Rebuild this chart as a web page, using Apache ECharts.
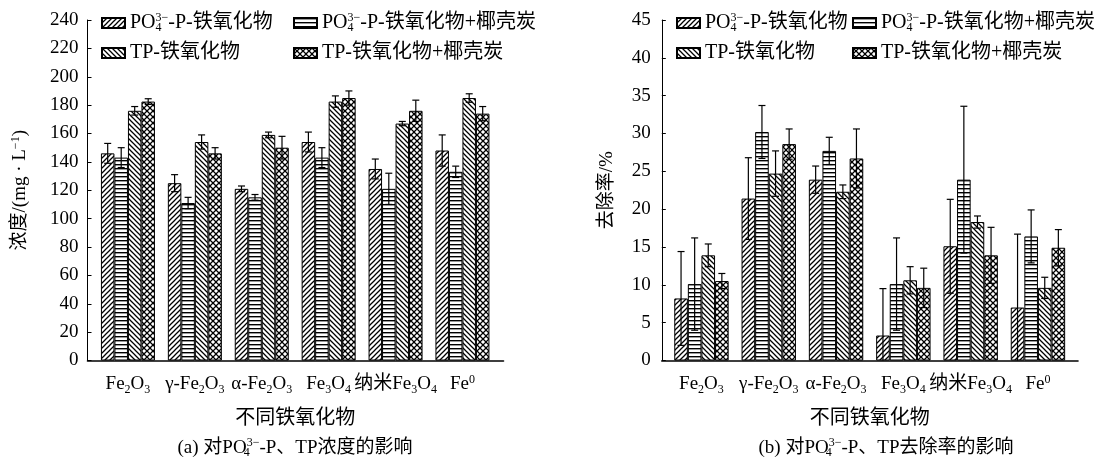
<!DOCTYPE html>
<html><head><meta charset="utf-8">
<script src="https://cdn.jsdelivr.net/npm/echarts@6/dist/echarts.min.js"></script>
<style>html,body{margin:0;padding:0;background:#fff}#c{width:1117px;height:470px}</style>
</head><body><div id="c"></div>
<script>
// ---------- data ----------
const categories = ['Fe2O3', 'γ-Fe2O3', 'α-Fe2O3', 'Fe3O4', '纳米Fe3O4', 'Fe0'];
const seriesNames = ['PO43--P-铁氧化物', 'PO43--P-铁氧化物+椰壳炭', 'TP-铁氧化物', 'TP-铁氧化物+椰壳炭'];
// (a) concentration, mg/L
const concPO4 = [146, 125, 121, 154, 135, 148];
const concPO4Err = [7, 6, 2, 7, 7, 11];
const concPO4C = [143, 111, 115, 143, 121, 133];
const concPO4CErr = [7, 4, 2, 7, 11, 4];
const concTP = [176, 154, 159, 182.5, 167, 185];
const concTPErr = [3, 5, 2, 4, 1.5, 3];
const concTPC = [182.5, 146, 150, 185, 176, 174];
const concTPCErr = [2, 4, 8, 5, 7.5, 5];
// (b) removal rate, %
const remPO4 = [8.2, 21.4, 23.9, 3.3, 15.1, 7.0];
const remPO4Err = [6.2, 5.4, 1.8, 6.2, 6.2, 9.7];
const remPO4C = [10.1, 30.2, 27.7, 10.1, 23.9, 16.4];
const remPO4CErr = [6.1, 3.5, 1.8, 6.1, 9.7, 3.5];
const remTP = [13.9, 24.7, 22.3, 10.6, 18.3, 9.6];
const remTPErr = [1.5, 3.0, 0.9, 1.8, 0.8, 1.4];
const remTPC = [10.5, 28.6, 26.7, 9.6, 13.9, 14.9];
const remTPCErr = [1.0, 2.0, 3.9, 2.6, 3.7, 2.4];
const concAxis = { min: 0, max: 240, interval: 20 };
const remAxis = { min: 0, max: 45, interval: 5 };

// ---------- rich-text labels ----------
const catLabel = {
  'Fe2O3': '{n|Fe}{sb|2}{n|O}{sb|3}',
  'γ-Fe2O3': '{n|γ-Fe}{sb|2}{n|O}{sb|3}',
  'α-Fe2O3': '{n|α-Fe}{sb|2}{n|O}{sb|3}',
  'Fe3O4': '{n|Fe}{sb|3}{n|O}{sb|4}',
  '纳米Fe3O4': '{n|纳米Fe}{sb|3}{n|O}{sb|4}',
  'Fe0': '{n|Fe}{sp|0}'
};
const legendLabel = {
  'PO43--P-铁氧化物': '{n|PO}{sb0|4}{sp|3−}{n|-P-铁氧化物}',
  'PO43--P-铁氧化物+椰壳炭': '{n|PO}{sb0|4}{sp|3−}{n|-P-铁氧化物+椰壳炭}',
  'TP-铁氧化物': '{n|TP-铁氧化物}',
  'TP-铁氧化物+椰壳炭': '{n|TP-铁氧化物+椰壳炭}'
};
const FONT = "'Liberation Serif','Times New Roman','Noto Sans CJK SC',serif";
function rich(fs) {
  const base = { fontFamily: FONT, color: '#000', fontWeight: 'normal' };
  return {
    n: Object.assign({ fontSize: fs, lineHeight: 22 }, base),
    sb: Object.assign({ fontSize: 12, lineHeight: 12, verticalAlign: 'bottom' }, base),
    sb0: Object.assign({ fontSize: 12, lineHeight: 12, verticalAlign: 'bottom', width: 0 }, base),
    sp: Object.assign({ fontSize: 12, lineHeight: 12, verticalAlign: 'top' }, base)
  };
}

// ---------- hatch patterns ----------
function makePattern(kind, s) {
  const c = document.createElement('canvas');
  c.width = s; c.height = s;
  const g = c.getContext('2d');
  g.fillStyle = '#fff'; g.fillRect(0, 0, s, s);
  g.strokeStyle = '#000'; g.lineWidth = 1.25;
  const diag = (dir) => {
    g.beginPath();
    if (dir > 0) {
      g.moveTo(0, s); g.lineTo(s, 0);
      g.moveTo(-s / 2, s / 2); g.lineTo(s / 2, -s / 2);
      g.moveTo(s / 2, s * 1.5); g.lineTo(s * 1.5, s / 2);
    } else {
      g.moveTo(0, 0); g.lineTo(s, s);
      g.moveTo(-s / 2, s / 2); g.lineTo(s / 2, s * 1.5);
      g.moveTo(s / 2, -s / 2); g.lineTo(s * 1.5, s / 2);
    }
    g.stroke();
  };
  if (kind === 'fwd') diag(1);
  if (kind === 'back') diag(-1);
  if (kind === 'cross') { diag(1); diag(-1); }
  if (kind === 'h') { g.fillStyle = '#000'; g.fillRect(0, 0, s, 1.4); }
  return { image: c, repeat: 'repeat' };
}
const patterns = [makePattern('fwd', 5), makePattern('h', 4), makePattern('back', 5), makePattern('cross', 6)];

// ---------- layout ----------
const panels = [
  { grid: { left: 94.5, top: 20, width: 401.4, height: 340.5 }, line: { left: 87.5, top: 20, width: 416, height: 340.5 },
    yOffset: 7, bw: 13.5, axis: concAxis, name: '{n|浓度/(mg · L}{sp|−1}{n|)}', nameGap: 56, labelMargin: 9,
    vals: [concPO4, concPO4C, concTP, concTPC], errs: [concPO4Err, concPO4CErr, concTPErr, concTPCErr] },
  { grid: { left: 667.8, top: 20, width: 403.8, height: 340.5 }, line: { left: 661.8, top: 20, width: 416.2, height: 340.5 },
    yOffset: 6, bw: 13.6, axis: remAxis, name: '{n|去除率/%}', nameGap: 44, labelMargin: 11,
    vals: [remPO4, remPO4C, remTP, remTPC], errs: [remPO4Err, remPO4CErr, remTPErr, remTPCErr] }
];

const grids = [], xAxes = [], yAxes = [], series = [];
panels.forEach((p, k) => {
  grids.push(Object.assign({ outerBoundsMode: 'none' }, p.grid));
  xAxes.push({
    gridIndex: k, type: 'category', data: categories,
    axisLine: { show: false }, axisTick: { show: false }, splitLine: { show: false },
    axisLabel: { interval: 0, margin: 13, formatter: v => catLabel[v], rich: rich(19) },
    name: '不同铁氧化物', nameLocation: 'middle', nameGap: 48,
    nameTextStyle: { fontSize: 20, fontFamily: FONT, color: '#000' }
  });
  yAxes.push({
    gridIndex: k, type: 'value', min: p.axis.min, max: p.axis.max, interval: p.axis.interval, offset: p.yOffset,
    axisLine: { show: true, lineStyle: { color: '#000', width: 1 } },
    axisTick: { show: true, inside: true, length: 4, lineStyle: { color: '#000', width: 1 } },
    axisLabel: { fontSize: 19, fontFamily: FONT, color: '#000', margin: p.labelMargin },
    splitLine: { show: false },
    name: p.name, nameLocation: 'middle', nameGap: p.nameGap,
    nameTextStyle: { rich: rich(19) }
  });
  const yMin = p.axis.min;
  p.vals.forEach((vals, i) => {
    series.push({
      type: 'bar', name: seriesNames[i], xAxisIndex: k, yAxisIndex: k, data: vals,
      barWidth: p.bw, barGap: '0%',
      itemStyle: { color: patterns[i], borderColor: '#000', borderWidth: 1 }
    });
    const errs = p.errs[i], bw = p.bw, idx = i;
    series.push({
      type: 'custom', xAxisIndex: k, yAxisIndex: k, silent: true, z: 5,
      data: vals.map((v, j) => [j, v, errs[j]]),
      renderItem(params, api) {
        const c = api.value(0), v = api.value(1), e = api.value(2);
        const lowV = Math.max(yMin, v - e);
        const hi = api.coord([c, v + e]), lo = api.coord([c, lowV]);
        const x = hi[0] + (idx - 1.5) * bw;
        const cap = 3.5, st = { stroke: '#000', lineWidth: 1.2 };
        const kids = [
          { type: 'line', shape: { x1: x, y1: hi[1], x2: x, y2: lo[1] }, style: st },
          { type: 'line', shape: { x1: x - cap, y1: hi[1], x2: x + cap, y2: hi[1] }, style: st }
        ];
        if (lowV > yMin) kids.push({ type: 'line', shape: { x1: x - cap, y1: lo[1], x2: x + cap, y2: lo[1] }, style: st });
        return { type: 'group', children: kids };
      }
    });
  });
});
// helper grids carrying the full-length x axis lines
panels.forEach((p, k) => {
  grids.push(Object.assign({ outerBoundsMode: 'none' }, p.line));
  xAxes.push({ gridIndex: 2 + k, type: 'value', min: 0, max: 1,
    axisLine: { show: true, lineStyle: { color: '#000', width: 1.6 } },
    axisTick: { show: false }, axisLabel: { show: false }, splitLine: { show: false } });
  yAxes.push({ gridIndex: 2 + k, type: 'value', show: false, min: 0, max: 1 });
});

function legend(left, top, names) {
  return {
    left, top, orient: 'vertical', padding: 0, itemGap: 9, itemWidth: 23, itemHeight: 10, icon: 'rect',
    selectedMode: false, data: names,
    formatter: n => legendLabel[n],
    textStyle: { fontSize: 20, fontFamily: FONT, color: '#000', rich: rich(20) }
  };
}

const option = {
  animation: false,
  backgroundColor: '#fff',
  title: [
    { text: '{n|(a) 对PO}{sb0|4}{sp|3−}{n|-P、TP浓度的影响}', left: 295, top: 437, textAlign: 'center', padding: 0,
      textStyle: { fontWeight: 'normal', rich: rich(19) } },
    { text: '{n|(b) 对PO}{sb0|4}{sp|3−}{n|-P、TP去除率的影响}', left: 886, top: 437, textAlign: 'center', padding: 0,
      textStyle: { fontWeight: 'normal', rich: rich(19) } }
  ],
  legend: [
    legend(101, 12, [seriesNames[0], seriesNames[2]]),
    legend(293, 12, [seriesNames[1], seriesNames[3]]),
    legend(676, 12, [seriesNames[0], seriesNames[2]]),
    legend(852, 12, [seriesNames[1], seriesNames[3]])
  ],
  grid: grids, xAxis: xAxes, yAxis: yAxes, series
};
const chart = echarts.init(document.getElementById('c'), null, { renderer: 'canvas' });
chart.setOption(option);
</script></body></html>
